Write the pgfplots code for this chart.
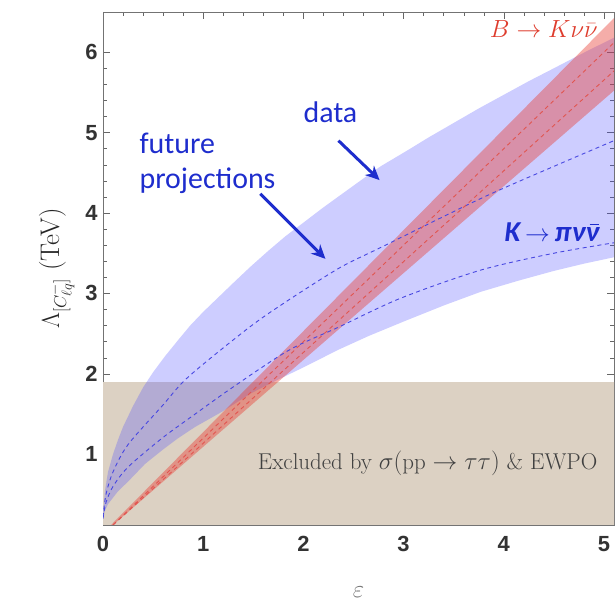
\documentclass[border=0pt]{standalone}
\usepackage{pgfplots}
\pgfplotsset{compat=1.18}
\usepackage{fontspec}
\setsansfont{Liberation Sans}
\newfontfamily\calib{Carlito}
\usetikzlibrary{arrows.meta}
\definecolor{tanx}{RGB}{220,209,195}
\definecolor{bandblue}{RGB}{70,70,255}
\definecolor{bandred}{RGB}{232,60,50}
\definecolor{annblue}{RGB}{30,45,205}
\definecolor{labred}{RGB}{222,60,45}
\definecolor{dashblue}{RGB}{70,70,225}
\definecolor{dashred}{RGB}{225,85,80}
\begin{document}
\begin{tikzpicture}
\path[use as bounding box] (0,0) rectangle (615bp,602bp);
\begin{axis}[
  at={(103bp,77bp)}, anchor=south west,
  scale only axis, width=511bp, height=513bp,
  xmin=0, xmax=5.1, ymin=0.12, ymax=6.5,
  xtick={0,1,2,3,4,5}, ytick={1,2,3,4,5,6},
  minor tick num=4,
  tick align=inside,
  major tick length=7bp, minor tick length=4bp,
  axis line style={black!55},
  every tick/.style={black!60},
  /pgf/number format/assume math mode=true,
  tick label style={font=\fontsize{22}{22}\selectfont\sffamily\bfseries, text=black!80},
  xticklabel style={yshift=-8bp},
  yticklabel style={xshift=-2bp},
  xlabel={$\varepsilon$},
  xlabel style={font=\fontsize{30}{30}\selectfont, text=black!55, yshift=-28bp},
  ylabel={$\Lambda_{[C^{-}_{\ell q}]}$ (TeV)},
  ylabel style={font=\fontsize{27}{27}\selectfont, text=black!85, yshift=4bp},
  clip=true,
]
% excluded region
\addplot[draw=none, fill=tanx] coordinates {(0,0) (5.2,0) (5.2,1.9) (0,1.9)} -- cycle;

% blue data band
\addplot[draw=none, fill=bandblue, fill opacity=0.27] coordinates {
 (0,0.22) (0.01,0.42) (0.02,0.55) (0.05,0.78) (0.1,1.0) (0.15,1.18) (0.2,1.34)
 (0.3,1.6) (0.4,1.83) (0.5,2.02) (0.62,2.22) (0.75,2.42) (0.87,2.6) (1,2.77)
 (1.15,2.95) (1.3,3.13) (1.47,3.33) (1.65,3.53) (1.82,3.71) (2,3.88) (2.2,4.07)
 (2.4,4.25) (2.6,4.43) (2.77,4.58) (3.04,4.78) (3.25,4.94) (3.5,5.12) (3.75,5.3)
 (4,5.47) (4.25,5.64) (4.5,5.8) (4.84,6.02) (5.1,6.18)
 (5.1,3.45) (4.8,3.37) (4.5,3.28) (4.15,3.16) (3.77,3.02) (3.4,2.85) (3,2.65)
 (2.65,2.47) (2.35,2.3) (2,2.08) (1.75,1.93) (1.48,1.76) (1.19,1.53) (0.92,1.34)
 (0.75,1.2) (0.59,1.05) (0.42,0.88) (0.25,0.66) (0.15,0.54) (0.1,0.46) (0.05,0.38)
 (0.02,0.3) (0,0.2)
} -- cycle;

% red band
\addplot[draw=none, fill=bandred, fill opacity=0.42] coordinates {
 (0.1,0.12) (5.2,5.63) (5.2,6.55) (0.08,0.12)
} -- cycle;

% blue future projections (dashed)
\addplot[dashblue, line width=0.9bp, dash pattern=on 4bp off 3.5bp, smooth] coordinates {
 (0,0.22) (0.03,0.5) (0.1,0.78) (0.25,1.12) (0.59,1.6) (0.85,1.96) (1.42,2.54)
 (1.77,2.85) (2.35,3.31) (2.77,3.57) (3.77,4.18) (4.5,4.58) (5.1,4.9)
};
\addplot[dashblue, line width=0.9bp, dash pattern=on 4bp off 3.5bp, smooth] coordinates {
 (0,0.2) (0.03,0.4) (0.1,0.6) (0.25,0.84) (0.59,1.2) (0.92,1.5) (1.28,1.82)
 (1.85,2.29) (2.35,2.58) (2.97,2.94) (3.77,3.29) (4.5,3.5) (5.1,3.63)
};

% red dashed
\addplot[dashred, line width=0.9bp, dash pattern=on 4bp off 3.5bp] coordinates {(0.1,0.12) (5.2,5.88)};
\addplot[dashred, line width=0.9bp, dash pattern=on 4bp off 3.5bp] coordinates {(0.1,0.12) (5.2,6.24)};

% annotations
\node[annblue, font=\calib\fontsize{30}{30}\selectfont] at (axis cs:2.27,5.25) {data};
\node[annblue, font=\calib\fontsize{30}{35}\selectfont, align=left, anchor=west] at (axis cs:0.33,4.62) {future\\projections};
\draw[annblue, line width=3bp, -{Stealth[length=14bp,width=13bp]}] (axis cs:2.35,4.90) -- (axis cs:2.76,4.41);
\draw[annblue, line width=3bp, -{Stealth[length=14bp,width=13bp]}] (axis cs:1.57,4.24) -- (axis cs:2.22,3.43);
\node[labred, font=\fontsize{26}{26}\selectfont] at (axis cs:4.40,6.29) {$B\rightarrow K\nu\bar{\nu}$};
\node[annblue, font=\calib\bfseries\itshape\fontsize{29}{29}\selectfont] at (axis cs:4.48,3.76) {K\,$\rightarrow$\,π\kern0.5ptν\rlap{\kern0.14em\rule[0.56em]{0.34em}{0.065em}}ν};
\node[black!75, font=\fontsize{23}{23}\selectfont] at (axis cs:3.24,0.89) {Excluded by $\sigma(\mathrm{pp}\rightarrow\tau\tau)$ \& EWPO};
\end{axis}
\end{tikzpicture}
\end{document}
